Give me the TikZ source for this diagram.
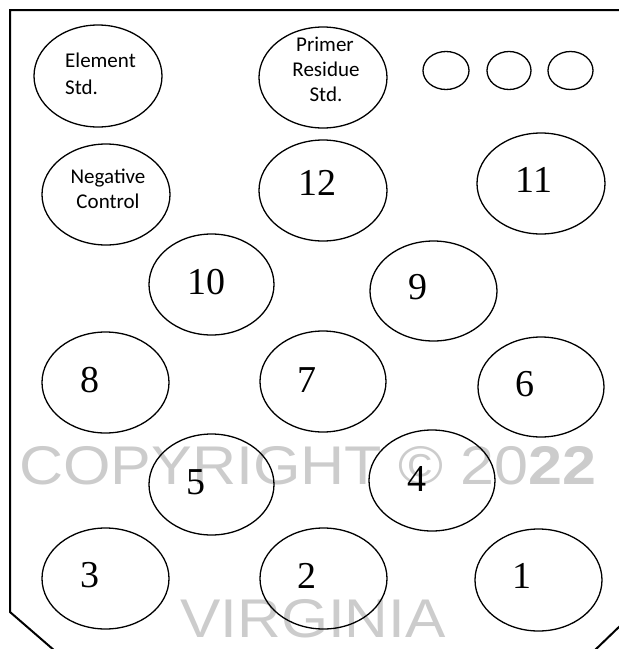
\documentclass[tikz,border=0pt]{standalone}
\usepackage{fontspec}
\setmainfont{Liberation Serif}
\newfontfamily\calfont{Carlito}
\newfontfamily\wmfont{Liberation Sans}
\usetikzlibrary{shapes.geometric}
\definecolor{wmgray}{RGB}{204,204,204}
\tikzset{
  well/.style={draw, ellipse, line width=1.3pt, inner sep=0pt, outer sep=0pt},
  big/.style={well, minimum width=127pt, minimum height=101pt},
  small/.style={well, minimum width=46pt, minimum height=38pt},
  num/.style={inner sep=0pt, font=\fontsize{38}{40}\selectfont},
  lbl/.style={inner sep=0pt, font=\calfont\fontsize{21}{24}\selectfont},
  wm/.style={inner sep=0pt, text=wmgray, font=\wmfont\fontsize{54.5}{60}\selectfont},
  outline/.style={line width=2pt}
}
\begin{document}
\begin{tikzpicture}[x=1pt,y=-1pt]
\useasboundingbox (0,0) rectangle (619,649);
\clip (0,0) rectangle (619,649);
% tray outline
\draw[outline] (622,10) -- (10,10) -- (10,612) -- (55,651);
\draw[outline] (621,625) -- (594,651);
% watermark
\node[wm, anchor=base west] (copy) at (19,484) {\scalebox{1.12}[1]{COPYRIGHT © 20\textbf{22}}};
\node[wm, anchor=base west] (virg) at (180,637) {\scalebox{1.11}[1]{VIRGINIA}};
% wells
\node[big, minimum width=128pt, minimum height=102pt] (es) at (98,76) {};
\node[big, minimum width=128pt] (pr) at (323,77.5) {};
\node[small] (s1) at (446,70.5) {};
\node[small, minimum width=44pt] (s2) at (509,70.5) {};
\node[small, minimum width=45pt] (s3) at (570.5,70.5) {};
\node[big, minimum width=128pt] (nc) at (106,194.5) {};
\node[big, minimum width=128pt] (w12) at (323,190.5) {};
\node[big, minimum width=128pt] (w11) at (541,183.5) {};
\node[big, minimum width=125pt] (w10) at (211.5,284.5) {};
\node[big, minimum height=100pt] (w9) at (433.5,291) {};
\node[big] (w8) at (105.5,382.5) {};
\node[big, minimum width=126pt] (w7) at (323,381.5) {};
\node[big, minimum width=126pt, minimum height=100pt] (w6) at (541,387) {};
\node[big, minimum width=125pt] (w5) at (211.5,484.5) {};
\node[big, minimum width=126pt] (w4) at (432,480.5) {};
\node[big] (w3) at (105.5,578.5) {};
\node[big] (w2) at (323.5,578.5) {};
\node[big, minimum height=102pt] (w1) at (538.5,580) {};
% text labels
\node[lbl, anchor=base west] (esa) at (65,67) {Element};
\node[lbl, anchor=base west] (esb) at (65,94) {Std.};
\node[lbl, anchor=base] (pra) at (325,51.5) {Primer};
\node[lbl, anchor=base] (prb) at (326,76.5) {Residue};
\node[lbl, anchor=base] (prc) at (326,101.5) {Std.};
\node[lbl, anchor=base] (nca) at (108,183) {Negative};
\node[lbl, anchor=base] (ncb) at (108,208) {Control};
% numbers
\node[num] (n12) at (317.5,183) {12};
\node[num] (n11) at (534,180) {11};
\node[num] (n10) at (206,282) {10};
\node[num] (n9) at (418,287) {9};
\node[num] (n8) at (90,380) {8};
\node[num] (n7) at (307,380) {7};
\node[num] (n6) at (525,384.5) {6};
\node[num] (n5) at (196,482) {5};
\node[num] (n4) at (417,479) {4};
\node[num] (n3) at (90,575.5) {3};
\node[num] (n2) at (307,575.5) {2};
\node[num] (n1) at (522,576) {1};
\end{tikzpicture}
\end{document}
